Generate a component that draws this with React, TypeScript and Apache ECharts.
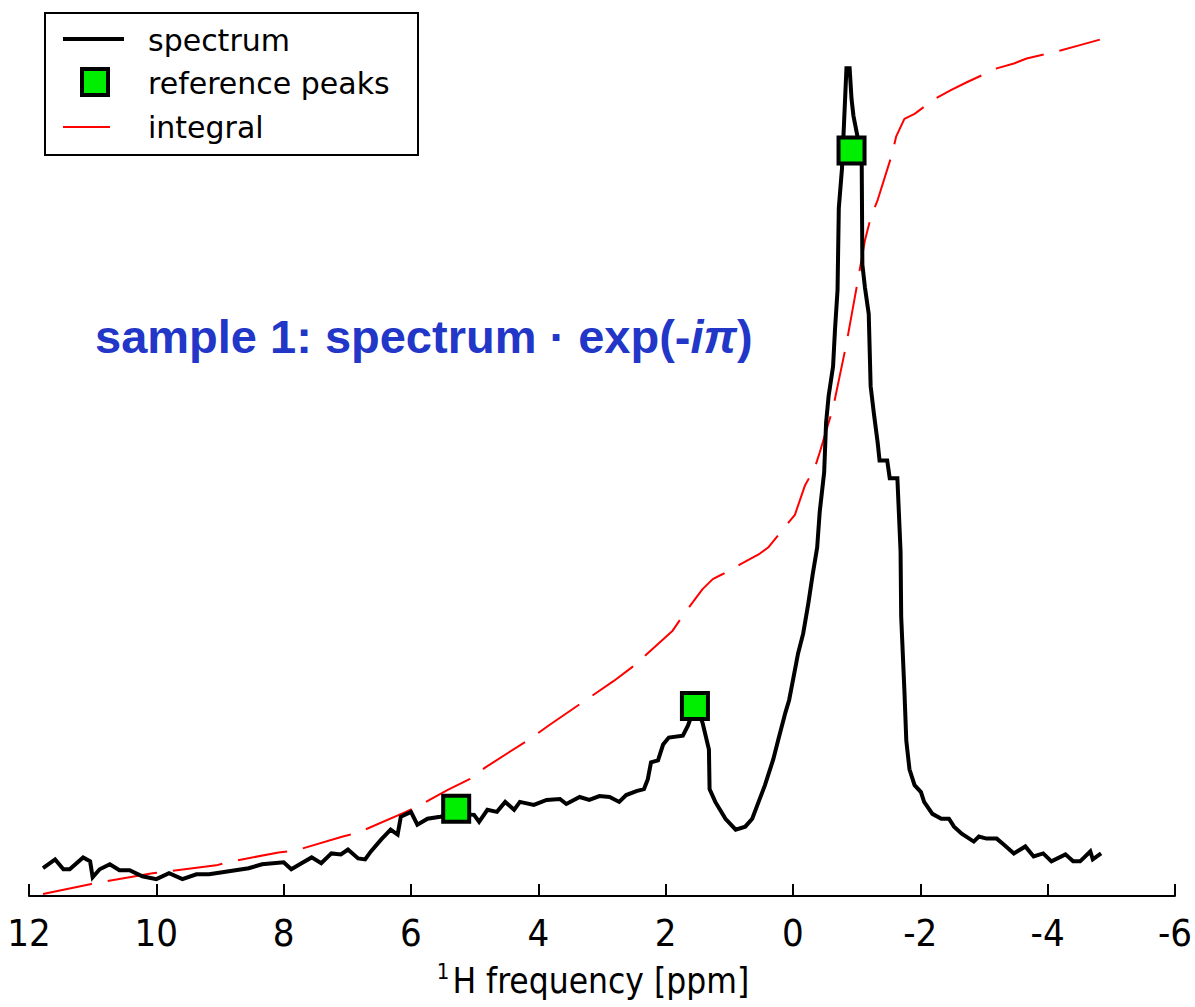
import React, { useEffect, useRef } from "react";
import * as echarts from "echarts";

// x-axis tick labels (ppm), every 2 ppm, reversed axis
const ppmTicks = [12, 10, 8, 6, 4, 2, 0, -2, -4, -6];

// legend entries
const legendNames = ["spectrum", "reference peaks", "integral"];

// spectrum (ppm, intensity in arbitrary units 0..100)
const spectrumPpm = [
  11.78, 11.59, 11.46, 11.36, 11.15, 11.04, 11.0, 10.89, 10.73, 10.58,
  10.42, 10.22, 10.0, 9.8, 9.59, 9.37, 9.17, 8.86, 8.55, 8.34,
  8.0, 7.88, 7.72, 7.56, 7.41, 7.25, 7.1, 6.99, 6.83, 6.72,
  6.63, 6.47, 6.32, 6.21, 6.16, 6.0, 5.9, 5.74, 5.54, 5.29,
  5.01, 4.93, 4.8, 4.65, 4.52, 4.38, 4.29, 4.07, 3.87, 3.66,
  3.56, 3.35, 3.2, 3.04, 2.88, 2.73, 2.62, 2.46, 2.34, 2.28,
  2.23, 2.12, 2.04, 1.95, 1.73, 1.65, 1.53, 1.42, 1.32, 1.31,
  1.22, 1.06, 0.9, 0.75, 0.64, 0.54, 0.44, 0.31, 0.23, 0.12,
  0.06, 0.0, -0.08, -0.16, -0.24, -0.31, -0.38, -0.42, -0.49, -0.52,
  -0.56, -0.63, -0.66, -0.7, -0.72, -0.77, -0.8, -0.84, -0.89, -0.92,
  -0.95, -1.02, -1.08, -1.09, -1.13, -1.19, -1.22, -1.27, -1.33, -1.36,
  -1.48, -1.52, -1.64, -1.69, -1.7, -1.75, -1.78, -1.83, -1.91, -2.01,
  -2.06, -2.19, -2.33, -2.45, -2.53, -2.65, -2.84, -2.92, -3.04, -3.2,
  -3.31, -3.47, -3.65, -3.78, -3.93, -4.06, -4.28, -4.4, -4.51, -4.67,
  -4.71, -4.84,
];
const spectrumIntensity = [
  3.14, 4.11, 3.0, 3.0, 4.33, 3.89, 2.11, 3.0, 3.56, 2.89,
  2.89, 2.22, 1.89, 2.56, 1.89, 2.44, 2.44, 2.78, 3.11, 3.56,
  3.78, 3.0, 3.67, 4.33, 3.67, 4.78, 4.67, 5.22, 4.22, 4.11,
  5.0, 6.33, 7.44, 6.89, 8.89, 9.44, 8.0, 8.67, 8.89, 9.22,
  9.11, 8.33, 9.67, 9.44, 10.56, 9.67, 10.56, 10.22, 10.78, 10.89,
  10.33, 11.11, 10.78, 11.22, 11.11, 10.56, 11.33, 11.78, 12.0, 13.11,
  15.0, 15.22, 17.0, 17.78, 18.0, 19.11, 21.44, 19.44, 16.44, 12.0,
  10.56, 8.67, 7.44, 7.78, 8.67, 10.56, 12.44, 15.33, 17.56, 20.56,
  22.0, 24.22, 27.22, 29.44, 32.78, 36.11, 39.11, 43.11, 47.56, 53.11,
  56.11, 59.44, 63.56, 68.0, 77.22, 81.67, 86.44, 92.89, 92.89, 89.44,
  87.56, 85.0, 82.0, 70.89, 68.33, 65.33, 57.22, 54.22, 50.89, 48.89,
  48.89, 46.89, 46.89, 38.67, 31.33, 23.11, 17.44, 14.22, 12.44, 11.67,
  10.56, 9.22, 8.67, 8.67, 7.78, 7.0, 6.11, 6.67, 6.44, 6.44,
  5.78, 4.78, 5.56, 4.44, 4.78, 3.89, 4.67, 3.89, 3.89, 5.0,
  4.11, 4.78,
];

// reference peaks
const peakPpm = [5.29, 1.54, -0.92];
const peakIntensity = [9.78, 21.33, 83.67];

// integral curve
const integralPpm = [
  11.78, 11.04, 10.78, 10.06, 9.8, 9.06, 8.81, 8.08, 7.81, 7.07,
  6.83, 6.08, 5.82, 5.43, 5.08, 4.83, 4.1, 3.82, 2.82, 2.51,
  1.89, 1.71, 1.57, 1.42, 1.26, 1.11, 0.83, 0.54, 0.39, 0.2,
  -0.03, -0.19, -0.34, -0.42, -0.63, -0.84, -1.02, -1.13, -1.22, -1.33,
  -1.55, -1.62, -1.75, -1.91, -2.22, -2.48, -2.73, -3.2, -3.47, -3.67,
  -4.2, -4.48, -4.82,
];
const integralValue = [
  0.22, 1.33, 1.67, 2.56, 2.78, 3.44, 3.89, 4.89, 5.11, 6.67,
  7.11, 9.44, 10.33, 11.89, 13.11, 14.44, 17.78, 19.22, 24.11, 25.78,
  29.78, 31.67, 33.0, 34.44, 35.56, 36.11, 37.22, 38.33, 39.11, 40.78,
  42.78, 46.11, 48.0, 49.78, 54.78, 62.0, 69.11, 73.56, 76.11, 78.11,
  83.11, 85.22, 87.22, 87.78, 89.44, 90.44, 91.33, 92.89, 93.44, 94.0,
  94.89, 95.44, 96.11,
];

const zip = (xs: number[], ys: number[]) =>
  xs.slice(0, Math.min(xs.length, ys.length)).map((x, i) => [x, ys[i]]);

const NARROW = '"Liberation Sans Narrow", "DejaVu Sans Condensed", "DejaVu Sans", sans-serif';
const LEGEND_FONT = '"DejaVu Sans", sans-serif';
const GREEN = "#00ee00";
const RED = "#ff0000";

export default function App() {
  const ref = useRef<HTMLDivElement>(null);

  useEffect(() => {
    document.body.style.margin = "0";
    if (!ref.current) return;
    const chart = echarts.init(ref.current, undefined, { renderer: "svg" });
    const tickMin = ppmTicks[ppmTicks.length - 1];
    const tickMax = ppmTicks[0];

    const legendText = (text: string, y: number) => ({
      type: "text",
      x: 148,
      y,
      z: 101,
      style: {
        text,
        fontSize: 30,
        fontFamily: LEGEND_FONT,
        fill: "#000",
        verticalAlign: "middle",
        align: "left",
      },
    });

    chart.setOption({
      animation: false,
      backgroundColor: "#ffffff",
      grid: { left: 29, right: 12.5, top: 5, bottom: 102, containLabel: false },
      xAxis: {
        type: "value",
        inverse: true,
        min: tickMin,
        max: tickMax,
        interval: 2,
        name: "{sup|1}H frequency [ppm]",
        nameLocation: "middle",
        nameGap: 64,
        nameTextStyle: {
          fontSize: 35,
          fontFamily: NARROW,
          color: "#000",
          lineHeight: 42,
          padding: [0, 18, 0, 0],
          rich: {
            sup: {
              fontSize: 22,
              fontFamily: NARROW,
              color: "#000",
              lineHeight: 20,
              verticalAlign: "top",
              padding: [0, 3, 0, 0],
            },
          },
        },
        axisLine: { show: true, lineStyle: { color: "#000", width: 2 } },
        axisTick: { show: true, inside: true, length: 12, lineStyle: { color: "#000", width: 2 } },
        axisLabel: {
          fontSize: 38,
          fontFamily: NARROW,
          color: "#000",
          margin: 18,
        },
        splitLine: { show: false },
      },
      yAxis: { type: "value", min: 0, max: 100, show: false },
      graphic: [
        {
          type: "text",
          left: 95,
          top: 313,
          z: 10,
          style: {
            text: "sample 1: spectrum · exp(-{it|iπ})",
            fill: "#2236c8",
            fontSize: 47,
            fontWeight: "bold",
            fontFamily: '"Liberation Sans", Arial, sans-serif',
            rich: {
              it: {
                fill: "#2236c8",
                fontSize: 47,
                fontWeight: "bold",
                fontStyle: "italic",
                fontFamily: '"Liberation Sans", Arial, sans-serif',
              },
            },
          },
        },
        // legend box
        {
          type: "rect",
          z: 100,
          shape: { x: 45, y: 13, width: 373, height: 142 },
          style: { fill: "#ffffff", stroke: "#000", lineWidth: 2 },
        },
        {
          type: "line",
          z: 101,
          shape: { x1: 63, y1: 39, x2: 124, y2: 39 },
          style: { stroke: "#000", lineWidth: 4 },
        },
        {
          type: "rect",
          z: 101,
          shape: { x: 82, y: 69, width: 26, height: 26 },
          style: { fill: GREEN, stroke: "#000", lineWidth: 4 },
        },
        {
          type: "line",
          z: 101,
          shape: { x1: 63, y1: 127, x2: 110, y2: 127 },
          style: { stroke: RED, lineWidth: 2 },
        },
        legendText(legendNames[0], 40),
        legendText(legendNames[1], 83),
        legendText(legendNames[2], 127),
      ],
      series: [
        {
          name: legendNames[2],
          type: "line",
          data: zip(integralPpm, integralValue),
          showSymbol: false,
          symbol: "none",
          z: 2,
          color: RED,
          lineStyle: { color: RED, width: 2, type: [50, 16] },
        },
        {
          name: legendNames[0],
          type: "line",
          data: zip(spectrumPpm, spectrumIntensity),
          showSymbol: false,
          symbol: "none",
          z: 3,
          color: "#000000",
          lineStyle: { color: "#000000", width: 4, join: "miter" },
        },
        {
          name: legendNames[1],
          type: "scatter",
          data: zip(peakPpm, peakIntensity),
          symbol: "rect",
          symbolSize: 26,
          z: 5,
          itemStyle: { color: GREEN, borderColor: "#000", borderWidth: 4, opacity: 1 },
        },
      ],
    });
    return () => chart.dispose();
  }, []);

  return <div ref={ref} style={{ width: 1195, height: 1007 }} />;
}
